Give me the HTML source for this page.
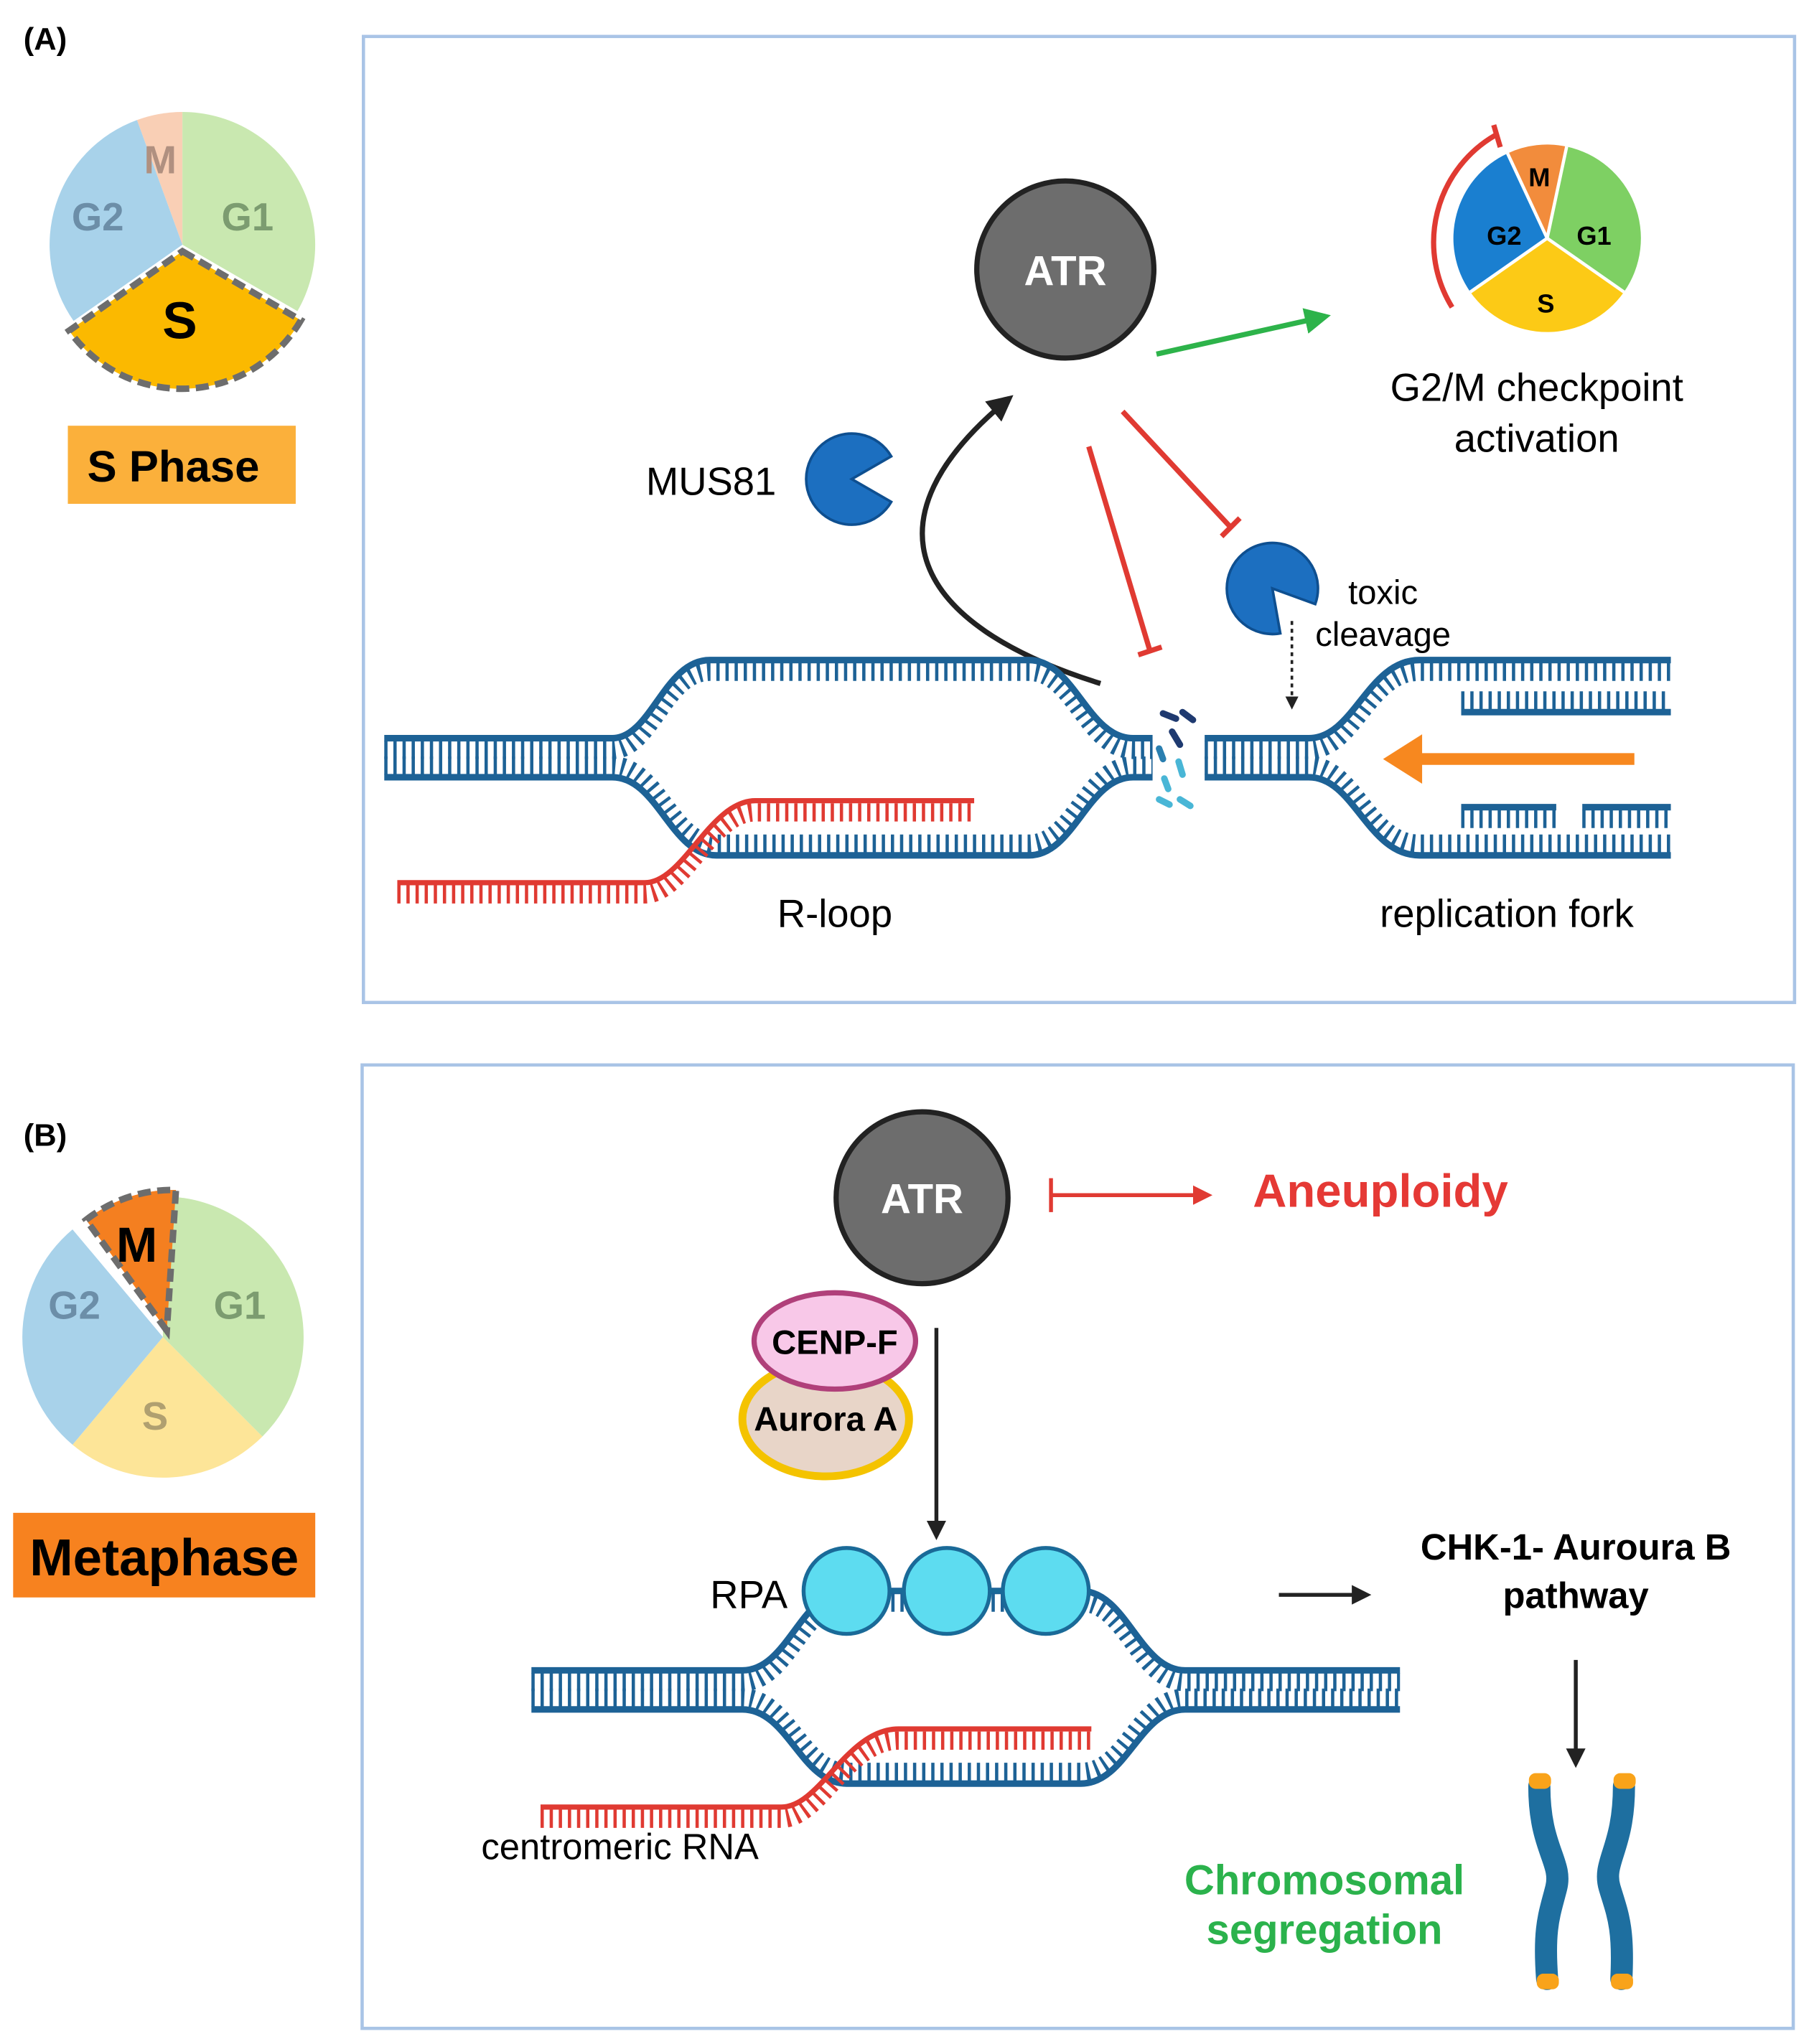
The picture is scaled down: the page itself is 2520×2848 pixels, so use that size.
<!DOCTYPE html>
<html><head><meta charset="utf-8"><style>
html,body{margin:0;padding:0;background:#fff}
svg{display:block}
text{font-family:"Liberation Sans",sans-serif}
</style></head><body>
<svg width="2520" height="2848" viewBox="0 0 1389 1570" xmlns="http://www.w3.org/2000/svg">
<defs>
<marker id="ab" viewBox="0 0 10 10" refX="8" refY="5" markerWidth="5" markerHeight="5" orient="auto"><path d="M0,0L10,5L0,10Z" fill="#222"/></marker>
<marker id="ag" viewBox="0 0 10 10" refX="8" refY="5" markerWidth="5" markerHeight="5" orient="auto"><path d="M0,0L10,5L0,10Z" fill="#2db34a"/></marker>
<marker id="ar" viewBox="0 0 10 10" refX="8" refY="5" markerWidth="5" markerHeight="5" orient="auto"><path d="M0,0L10,5L0,10Z" fill="#e03a32"/></marker>
</defs>
<rect width="1389" height="1570" fill="#fff"/>

<!-- ===== Panel A ===== -->
<text x="18" y="38" font-size="24" font-weight="bold">(A)</text>
<path d="M140,188 L105.1,92.2 A102,102 0 0 1 140,86 Z" fill="#f9cfb5"/>
<path d="M140,188 L140,86 A102,102 0 0 1 228.3,239 Z" fill="#c9e8b0"/>
<path d="M140,188 L56.4,246.5 A102,102 0 0 1 105.1,92.2 Z" fill="#a8d2ea"/>
<path d="M140,193 L231,246 A106,106 0 0 1 53,254 Z" fill="#fbb900" stroke="#6d6d6d" stroke-width="5" stroke-dasharray="10 5"/>
<text x="123" y="133" font-size="30" font-weight="bold" fill="#b09080" text-anchor="middle">M</text>
<text x="190" y="177" font-size="30" font-weight="bold" fill="#7c9c70" text-anchor="middle">G1</text>
<text x="75" y="177" font-size="30" font-weight="bold" fill="#6c8ea8" text-anchor="middle">G2</text>
<text x="138" y="260" font-size="40" font-weight="bold" text-anchor="middle">S</text>
<rect x="52" y="327" width="175" height="60" fill="#fbb03b"/>
<text x="133" y="370" font-size="34" font-weight="bold" text-anchor="middle">S Phase</text>

<rect x="279" y="28" width="1099" height="742" fill="none" stroke="#a9c4e6" stroke-width="2.5"/>

<circle cx="818" cy="207" r="68" fill="#6d6d6d" stroke="#222" stroke-width="4"/>
<text x="818" y="219" font-size="32" font-weight="bold" fill="#fff" text-anchor="middle">ATR</text>
<line x1="888" y1="272" x2="1018" y2="243" stroke="#2db34a" stroke-width="4" marker-end="url(#ag)"/>

<path d="M1188,183 L1157.6,117.8 A72,72 0 0 1 1203,112.6 Z" fill="#f28c3c"/>
<path d="M1188,183 L1203,112.6 A72,72 0 0 1 1247,224.3 Z" fill="#7ed063"/>
<path d="M1188,183 L1247,224.3 A72,72 0 0 1 1129,224.3 Z" fill="#fcca16"/>
<path d="M1188,183 L1129,224.3 A72,72 0 0 1 1157.6,117.8 Z" fill="#1a7fd0"/>
<g stroke="#fff" stroke-width="2.5"><line x1="1188" y1="183" x2="1157.6" y2="117.8"/><line x1="1188" y1="183" x2="1203" y2="112.6"/><line x1="1188" y1="183" x2="1247" y2="224.3"/><line x1="1188" y1="183" x2="1129" y2="224.3"/></g>
<text x="1182" y="143" font-size="20" font-weight="bold" text-anchor="middle">M</text>
<text x="1224" y="188" font-size="20" font-weight="bold" text-anchor="middle">G1</text>
<text x="1155" y="188" font-size="20" font-weight="bold" text-anchor="middle">G2</text>
<text x="1187" y="240" font-size="20" font-weight="bold" text-anchor="middle">S</text>
<path d="M1148,104 A95,95 0 0 0 1115,236" fill="none" stroke="#e03a32" stroke-width="4"/>
<line x1="1147" y1="96" x2="1152" y2="113" stroke="#e03a32" stroke-width="4"/>
<text x="1180" y="308" font-size="30" text-anchor="middle">G2/M checkpoint</text>
<text x="1180" y="347" font-size="30" text-anchor="middle">activation</text>

<text x="546" y="380" font-size="30" text-anchor="middle">MUS81</text>
<path d="M654,368 L684.3,385.5 A35,35 0 1 1 684.3,350.5 Z" fill="#1c6fc0" stroke="#0e4f90" stroke-width="2"/>
<path d="M845,525 C700,480 660,400 775,306" fill="none" stroke="#222" stroke-width="4" marker-end="url(#ab)"/>
<line x1="836" y1="343" x2="883" y2="500" stroke="#e03a32" stroke-width="4"/>
<line x1="874" y1="503" x2="892" y2="497" stroke="#e03a32" stroke-width="4"/>
<line x1="862" y1="316" x2="945" y2="405" stroke="#e03a32" stroke-width="4"/>
<line x1="938" y1="412" x2="952" y2="398" stroke="#e03a32" stroke-width="4"/>
<path d="M977,452 L983.1,486.5 A35,35 0 1 1 1009.9,464 Z" fill="#1c6fc0" stroke="#0e4f90" stroke-width="2"/>
<text x="1062" y="464" font-size="26" text-anchor="middle">toxic</text>
<text x="1062" y="496" font-size="26" text-anchor="middle">cleavage</text>
<line x1="992" y1="477" x2="992" y2="543" stroke="#222" stroke-width="2" stroke-dasharray="3 3" marker-end="url(#ab)"/>

<!-- DNA A -->
<g fill="none" stroke="#1d6296">
<g stroke-width="5">
<path d="M295,567 L470,567 C500,567 510,507 545,507 L790,507 C825,507 835,567 870,567 L885,567"/>
<path d="M295,597 L470,597 C505,597 515,657 550,657 L790,657 C825,657 835,597 870,597 L885,597"/>
<path d="M925,567 L1005,567 C1040,567 1050,507 1090,507 L1283,507"/>
<path d="M925,597 L1005,597 C1040,597 1050,657 1090,657 L1283,657"/>
<path d="M1122,547 L1283,547"/>
<path d="M1122,620 L1195,620 M1215,620 L1283,620"/>
</g>
<g stroke-width="14" stroke-dasharray="2.5 4.5">
<path transform="translate(0,9)" d="M295,567 L470,567 C500,567 510,507 545,507 L790,507 C825,507 835,567 870,567 L885,567"/>
<path transform="translate(0,-9)" d="M295,597 L470,597 C505,597 515,657 550,657 L790,657 C825,657 835,597 870,597 L885,597"/>
<path transform="translate(0,9)" d="M925,567 L1005,567 C1040,567 1050,507 1090,507 L1283,507"/>
<path transform="translate(0,-9)" d="M925,597 L1005,597 C1040,597 1050,657 1090,657 L1283,657"/>
<path transform="translate(0,-9)" d="M1122,547 L1283,547"/>
<path transform="translate(0,9)" d="M1122,620 L1195,620 M1215,620 L1283,620"/>
</g>
</g>
<g fill="none" stroke="#e03a32">
<path stroke-width="4" d="M305,678 L495,678 C525,678 545,615 580,615 L748,615"/>
<path stroke-width="14" stroke-dasharray="2.5 4.5" transform="translate(0,9)" d="M305,678 L495,678 C525,678 545,615 580,615 L748,615"/>
</g>
<g stroke-width="5" stroke-linecap="round">
<line x1="893" y1="548" x2="903" y2="552" stroke="#1f3a70"/><line x1="908" y1="547" x2="916" y2="553" stroke="#1f3a70"/>
<line x1="900" y1="562" x2="906" y2="572" stroke="#1f3a70"/><line x1="890" y1="575" x2="893" y2="583" stroke="#2a7fb0"/>
<line x1="905" y1="585" x2="908" y2="595" stroke="#49b6d6"/><line x1="894" y1="598" x2="897" y2="606" stroke="#49b6d6"/>
<line x1="890" y1="614" x2="898" y2="618" stroke="#49b6d6"/><line x1="906" y1="614" x2="914" y2="619" stroke="#49b6d6"/>
</g>
<line x1="1255" y1="583" x2="1085" y2="583" stroke="#f7881f" stroke-width="9"/>
<path d="M1062,583 L1092,564 L1092,602 Z" fill="#f7881f"/>
<text x="641" y="712" font-size="30" text-anchor="middle">R-loop</text>
<text x="1157" y="712" font-size="30" text-anchor="middle">replication fork</text>

<!-- ===== Panel B ===== -->
<text x="18" y="880" font-size="24" font-weight="bold">(B)</text>
<path d="M125,1027 L125,919 A108,108 0 0 1 201.4,1103.4 Z" fill="#c9e8b0"/>
<path d="M125,1027 L201.4,1103.4 A108,108 0 0 1 55.6,1109.7 Z" fill="#fde598"/>
<path d="M125,1027 L55.6,1109.7 A108,108 0 0 1 55.6,944.3 Z" fill="#a8d2ea"/>
<path d="M128,1022 L66,937 A108,108 0 0 1 135,914 Z" fill="#f47f20" stroke="#6d6d6d" stroke-width="5" stroke-dasharray="10 5"/>
<text x="105" y="969" font-size="38" font-weight="bold" text-anchor="middle">M</text>
<text x="184" y="1013" font-size="30" font-weight="bold" fill="#7c9c70" text-anchor="middle">G1</text>
<text x="57" y="1013" font-size="30" font-weight="bold" fill="#6c8ea8" text-anchor="middle">G2</text>
<text x="119" y="1098" font-size="30" font-weight="bold" fill="#b0a070" text-anchor="middle">S</text>
<rect x="10" y="1162" width="232" height="65" fill="#f7821f"/>
<text x="126" y="1210" font-size="40" font-weight="bold" text-anchor="middle">Metaphase</text>

<rect x="278" y="818" width="1099" height="740" fill="none" stroke="#a9c4e6" stroke-width="2.5"/>

<circle cx="708" cy="920" r="66" fill="#6d6d6d" stroke="#222" stroke-width="4"/>
<text x="708" y="932" font-size="32" font-weight="bold" fill="#fff" text-anchor="middle">ATR</text>
<line x1="807" y1="918" x2="928" y2="918" stroke="#e03a32" stroke-width="3" marker-end="url(#ar)"/>
<line x1="807" y1="905" x2="807" y2="931" stroke="#e03a32" stroke-width="3"/>
<text x="1060" y="927" font-size="36" font-weight="bold" fill="#e53935" text-anchor="middle">Aneuploidy</text>

<ellipse cx="634" cy="1090" rx="64" ry="44" fill="#e8d5c8" stroke="#f4c300" stroke-width="6"/>
<ellipse cx="641" cy="1030" rx="62" ry="37" fill="#f8c8e8" stroke="#b0407a" stroke-width="4"/>
<text x="641" y="1040" font-size="26" font-weight="bold" text-anchor="middle">CENP-F</text>
<text x="634" y="1099" font-size="26" font-weight="bold" text-anchor="middle">Aurora A</text>
<line x1="719" y1="1020" x2="719" y2="1180" stroke="#222" stroke-width="3" marker-end="url(#ab)"/>

<!-- DNA B -->
<g fill="none" stroke="#1d6296">
<g stroke-width="5">
<path d="M408,1283 L570,1283 C605,1283 615,1222 650,1222 L830,1222 C865,1222 875,1283 910,1283 L1075,1283"/>
<path d="M408,1313 L570,1313 C605,1313 615,1370 650,1370 L830,1370 C865,1370 875,1313 910,1313 L1075,1313"/>
</g>
<g stroke-width="14" stroke-dasharray="2.5 4.5">
<path transform="translate(0,9)" d="M408,1283 L570,1283 C605,1283 615,1222 650,1222 L830,1222 C865,1222 875,1283 910,1283 L1075,1283"/>
<path transform="translate(0,-9)" d="M408,1313 L570,1313 C605,1313 615,1370 650,1370 L830,1370 C865,1370 875,1313 910,1313 L1075,1313"/>
</g>
</g>
<g fill="none" stroke="#e03a32">
<path stroke-width="4" d="M415,1388 L600,1388 C630,1388 650,1328 690,1328 L838,1328"/>
<path stroke-width="14" stroke-dasharray="2.5 4.5" transform="translate(0,9)" d="M415,1388 L600,1388 C630,1388 650,1328 690,1328 L838,1328"/>
</g>
<g stroke="#1a6a98" stroke-width="3">
<line x1="680" y1="1222" x2="698" y2="1222"/><line x1="757" y1="1222" x2="774" y2="1222"/>
<circle cx="650" cy="1222" r="33" fill="#5ddcf0"/>
<circle cx="727" cy="1222" r="33" fill="#5ddcf0"/>
<circle cx="803" cy="1222" r="33" fill="#5ddcf0"/>
</g>
<text x="575" y="1235" font-size="30" text-anchor="middle">RPA</text>
<text x="476" y="1428" font-size="28" text-anchor="middle">centromeric RNA</text>

<line x1="982" y1="1225" x2="1050" y2="1225" stroke="#222" stroke-width="3" marker-end="url(#ab)"/>
<text x="1210" y="1198" font-size="28" font-weight="bold" text-anchor="middle">CHK-1- Auroura B</text>
<text x="1210" y="1235" font-size="28" font-weight="bold" text-anchor="middle">pathway</text>
<line x1="1210" y1="1275" x2="1210" y2="1355" stroke="#222" stroke-width="3" marker-end="url(#ab)"/>
<text x="1017" y="1455" font-size="32" font-weight="bold" fill="#2bb24c" text-anchor="middle">Chromosomal</text>
<text x="1017" y="1493" font-size="32" font-weight="bold" fill="#2bb24c" text-anchor="middle">segregation</text>

<g fill="none" stroke-linecap="round">
<path d="M1182,1372 C1182,1420 1200,1430 1195,1450 C1190,1470 1185,1480 1188,1520" stroke="#1e6fa0" stroke-width="17"/>
<path d="M1247,1372 C1247,1420 1230,1430 1236,1450 C1242,1470 1247,1480 1245,1520" stroke="#1e6fa0" stroke-width="17"/>
</g>
<g fill="#f9a31a">
<rect x="1174" y="1362" width="17" height="12" rx="5"/><rect x="1239" y="1362" width="17" height="12" rx="5"/>
<rect x="1180" y="1516" width="17" height="12" rx="5"/><rect x="1237" y="1516" width="17" height="12" rx="5"/>
</g>
</svg>
</body></html>
